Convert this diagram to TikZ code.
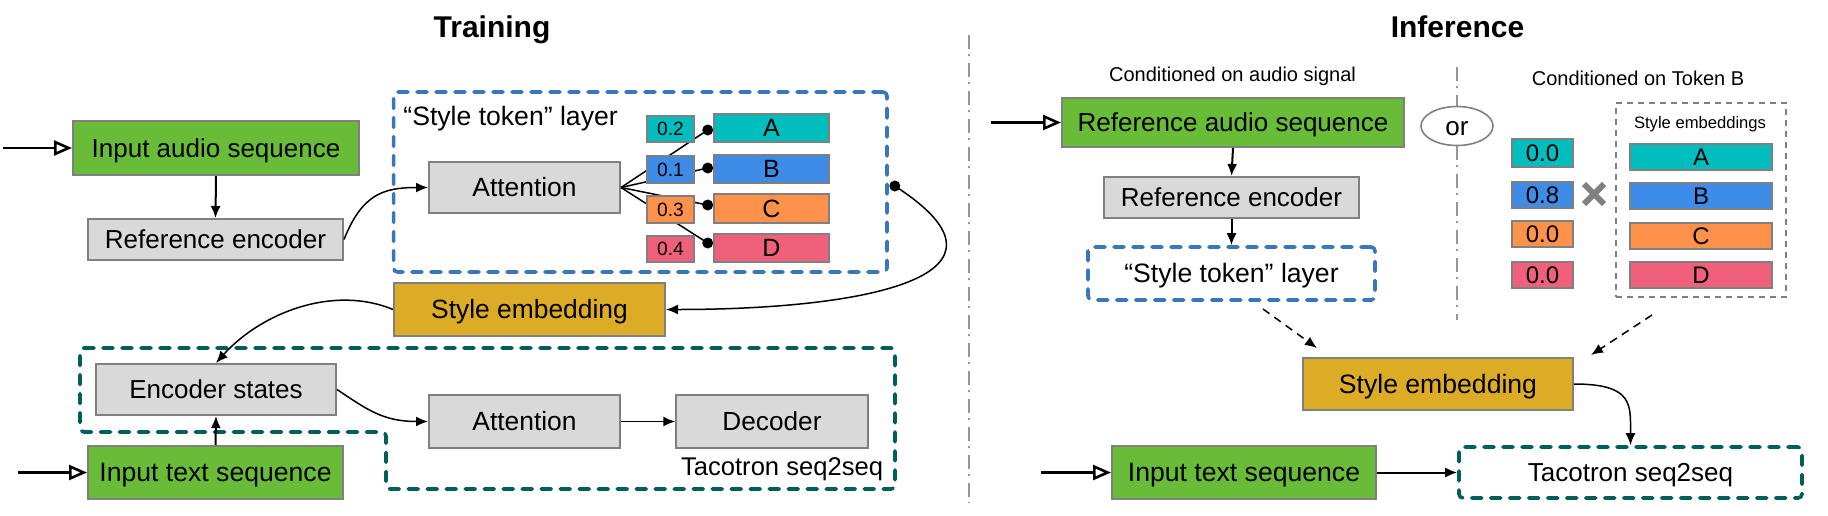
\documentclass[tikz,border=0pt]{standalone}
\usepackage{fontspec}
\setmainfont{Liberation Sans}
\usetikzlibrary{arrows.meta,calc,shapes.geometric}
\definecolor{cgreen}{RGB}{104,188,56}
\definecolor{cgray}{RGB}{217,217,217}
\definecolor{cborder}{RGB}{128,128,128}
\definecolor{cgold}{RGB}{221,172,39}
\definecolor{ccyan}{RGB}{0,190,190}
\definecolor{cblue}{RGB}{60,140,232}
\definecolor{corange}{RGB}{255,146,74}
\definecolor{cpink}{RGB}{240,96,122}
\definecolor{dblue}{RGB}{58,118,186}
\definecolor{dteal}{RGB}{2,94,90}
\definecolor{cdivider}{RGB}{150,150,150}
\tikzset{
  fsz/.style={font=\fontsize{#1}{#1}\selectfont, text height=0.72*#1 pt, text depth=0.02*#1 pt},
  box/.style={draw=cborder, line width=1pt, inner sep=0pt, fsz=13, text=black},
  greenbox/.style={box, fill=cgreen},
  graybox/.style={box, fill=cgray},
  goldbox/.style={box, fill=cgold},
  wbox/.style={draw=cborder, line width=1pt, inner sep=0pt},
  tok/.style={draw=cborder, line width=1.3pt, inner sep=0pt, fsz=12.5},
  conn/.style={line width=0.75pt, -{Latex[length=6pt,width=5pt]}},
  dconn/.style={conn, dash pattern=on 4pt off 3pt},
  inarrow/.style={line width=1.3pt, -{Triangle[open, length=9pt, width=7.5pt, fill=white, line width=1.3pt]}},
  bluedash/.style={draw=dblue, line width=1.8pt, dash pattern=on 5pt off 4.5pt, line cap=round, rounded corners=2pt},
  tealdash/.style={draw=dteal, line width=1.8pt, dash pattern=on 5pt off 4.5pt, line cap=round, rounded corners=2pt},
  graydash/.style={draw=cborder, line width=0.8pt, dash pattern=on 3pt off 2.5pt},
  divider/.style={draw=cdivider, line width=0.7pt, dash pattern=on 7pt off 2.5pt on 1pt off 3.5pt},
  blackdot/.style={circle, fill=black, inner sep=0pt, minimum size=5.5pt},
  titletext/.style={font=\bfseries\fontsize{15}{15}\selectfont, anchor=base},
  smalltext/.style={font=\fontsize{10}{10}\selectfont, anchor=base, inner sep=0pt},
}
\begin{document}
\begin{tikzpicture}[x=0.5pt,y=-0.5pt]
\useasboundingbox (0,0) rectangle (1828,515);

% ---------------- Titles and dividers ----------------
\node[titletext] (ttrain) at (492,37) {Training};
\node[titletext] (tinf) at (1457.5,37) {Inference};
\coordinate (divtop) at (969,35);
\coordinate (divbot) at (969,503);
\draw[divider] (divtop) -- (divbot);

% ---------------- Training ----------------
\node[greenbox, minimum width=143pt, minimum height=27pt] (ia) at (216,148) {Input audio sequence};
\node[graybox, minimum width=127.5pt, minimum height=20.5pt] (re) at (215.5,239.5) {Reference encoder};
\coordinate (iastart) at (3,148);
\draw[inarrow] (iastart) -- (ia.west);
\draw[conn, line width=1pt] (ia.south) -- (re.north);

% style token layer box
\node[bluedash, minimum width=246.7pt, minimum height=90pt, inner sep=0pt] (sl) at (640.3,182) {};
\node[fsz=13.3, anchor=base west, inner sep=0pt] (sllab) at (403,125) {“Style token” layer};

\node[graybox, fsz=13.2, minimum width=95.5pt, minimum height=25.5pt] (att1) at (524.5,187.5) {Attention};
\draw[conn] (re.east) .. controls +(18,-45) and +(-45,0) .. (att1.west);

% tokens
\node[tok, fill=ccyan, minimum width=57.5pt, minimum height=14pt] (tA) at (771.5,128) {A};
\node[tok, fill=cblue, minimum width=57.5pt, minimum height=14pt] (tB) at (771.5,169) {B};
\node[tok, fill=corange, minimum width=57.5pt, minimum height=14.5pt] (tC) at (771.5,208.5) {C};
\node[tok, fill=cpink, minimum width=57.5pt, minimum height=14pt] (tD) at (771.5,248) {D};
\coordinate (cA) at ($(tA.west)+(-5,2)$);
\coordinate (cB) at ($(tB.west)+(-5,-1)$);
\coordinate (cC) at ($(tC.west)+(-5,-3.5)$);
\coordinate (cD) at ($(tD.west)+(-5,-5)$);
\foreach \c in {cA,cB,cC,cD} \draw[line width=0.75pt] (att1.east) -- (\c);
\foreach \c in {cA,cB,cC,cD} \node[blackdot] at (\c) {};

% weights
\node[wbox, fill=ccyan, fsz=9.6, minimum width=23.5pt, minimum height=13pt] (w1) at (670.5,129) {0.2};
\node[wbox, fill=cblue, fsz=9.6, minimum width=23.5pt, minimum height=13.5pt] (w2) at (670.5,169.5) {0.1};
\node[wbox, fill=corange, fsz=9.6, minimum width=23.5pt, minimum height=13.5pt] (w3) at (670.5,209.5) {0.3};
\node[wbox, fill=cpink, fsz=9.6, minimum width=23.5pt, minimum height=13pt] (w4) at (670.5,249) {0.4};

% output dot and style embedding
\node[blackdot] (sldot) at ($(sl.east)+(6,4)$) {};
\node[goldbox, fsz=13.2, minimum width=135.5pt, minimum height=26.5pt] (se1) at (529.5,309.5) {Style embedding};
\draw[conn] (sldot.center) .. controls +(140,90) and +(200,0) .. (se1.east);

% Tacotron seq2seq (left) outline
\coordinate (p1) at (80,348);
\coordinate (p2) at (895,348);
\coordinate (p3) at (895,489);
\coordinate (p4) at (386,489);
\coordinate (p5) at (386,432);
\coordinate (p6) at (80,432);
\draw[tealdash] (p1) -- (p2) -- (p3) -- (p4) -- (p5) -- (p6) -- cycle;
\node[fsz=12.8, anchor=base east, inner sep=0pt] (taclab) at (883.5,475) {Tacotron seq2seq};

\node[graybox, minimum width=120pt, minimum height=25.5pt] (es) at (216,389.5) {Encoder states};
\node[greenbox, fsz=13.3, minimum width=127.5pt, minimum height=26.5pt] (it1) at (215.5,472.5) {Input text sequence};
\node[graybox, fsz=13.2, minimum width=95.5pt, minimum height=26.5pt] (att2) at (524.5,421.5) {Attention};
\node[graybox, fsz=13.1, minimum width=95.75pt, minimum height=26.5pt] (dec) at (772,421.5) {Decoder};

\coordinate (itstart) at (18,472.5);
\draw[inarrow] (itstart) -- (it1.west);
\draw[conn, line width=1pt] (it1.north) -- (es.south);
\draw[conn] (se1.west) .. controls +(-60,-25) and +(45,-50) .. (es.north);
\draw[conn] (es.east) .. controls +(30,20) and +(-45,0) .. (att2.west);
\draw[conn] (att2.east) -- (dec.west);

% ---------------- Inference ----------------
\node[smalltext] (cond1) at (1232.5,81) {Conditioned on audio signal};
\node[smalltext] (cond2) at (1638,85) {Conditioned on Token B};

\node[greenbox, minimum width=171pt, minimum height=24.5pt] (ras) at (1233,122.5) {Reference audio sequence};
\coordinate (rasstart) at (991,122.5);
\draw[inarrow] (rasstart) -- (ras.west);
\node[graybox, minimum width=127.5pt, minimum height=20.5pt] (re2) at (1231.5,197.5) {Reference encoder};
\node[bluedash, fsz=13.3, minimum width=143.5pt, minimum height=26.5pt, inner sep=0pt] (sl2) at (1231.5,273.5) {“Style token” layer};
\draw[conn, line width=1pt] (ras.south) -- (re2.north);
\draw[conn, line width=1pt] (re2.south) -- (sl2.north);

% or + divider
\node[ellipse, draw=cborder, line width=0.8pt, minimum width=36pt, minimum height=19.5pt, inner sep=0pt, fsz=13] (or) at (1457,126) {or};
\coordinate (ortop) at (1457,67);
\coordinate (orbot) at (1457,320);
\draw[divider] (ortop) -- (or.north);
\draw[divider] (or.south) -- (orbot);

% weights right
\node[wbox, fill=ccyan, fsz=12, minimum width=30.5pt, minimum height=14pt] (v1) at (1542.5,153) {0.0};
\node[wbox, fill=cblue, fsz=12, minimum width=30.5pt, minimum height=13pt] (v2) at (1542.5,195) {0.8};
\node[wbox, fill=corange, fsz=12, minimum width=30.5pt, minimum height=13pt] (v3) at (1542.5,234) {0.0};
\node[wbox, fill=cpink, fsz=12, minimum width=30.5pt, minimum height=13pt] (v4) at (1542.5,275) {0.0};

% cross
\coordinate (xc) at (1594,194);
\draw[cborder, line width=3pt] ($(xc)+(-10,-10)$) -- ($(xc)+(10,10)$);
\draw[cborder, line width=3pt] ($(xc)+(-10,10)$) -- ($(xc)+(10,-10)$);

% style embeddings box
\node[graydash, minimum width=85pt, minimum height=97pt, inner sep=0pt] (sebox) at (1701,200) {};
\node[font=\fontsize{8.3}{8.3}\selectfont, anchor=base, inner sep=0pt] (seblab) at (1700,128) {Style embeddings};
\node[tok, line width=1pt, fsz=12, fill=ccyan, minimum width=71pt, minimum height=13pt] (uA) at (1701,157) {A};
\node[tok, line width=1pt, fsz=12, fill=cblue, minimum width=71pt, minimum height=13pt] (uB) at (1701,196) {B};
\node[tok, line width=1pt, fsz=12, fill=corange, minimum width=71pt, minimum height=13pt] (uC) at (1701,236) {C};
\node[tok, line width=1pt, fsz=12, fill=cpink, minimum width=71pt, minimum height=13pt] (uD) at (1701,275) {D};

% style embedding (right)
\node[goldbox, fsz=13.3, minimum width=135pt, minimum height=26pt] (se2) at (1438,384) {Style embedding};
\coordinate (da1) at (1263,309);
\coordinate (da1e) at (1317,348);
\draw[dconn] (da1) -- (da1e);
\coordinate (da2) at (1652,315);
\coordinate (da2e) at (1591,355);
\draw[dconn] (da2) -- (da2e);

% input text + tacotron (right)
\node[greenbox, fsz=13.3, minimum width=132pt, minimum height=26.5pt] (it2) at (1244,472.5) {Input text sequence};
\node[tealdash, fsz=13, minimum width=171.5pt, minimum height=25.5pt, inner sep=0pt, text=black] (tac2) at (1630.5,472.5) {Tacotron seq2seq};
\coordinate (it2start) at (1041,472.5);
\draw[inarrow] (it2start) -- (it2.west);
\draw[conn, line width=1pt] (it2.east) -- (tac2.west);
\draw[conn] (se2.east) .. controls +(60,0) and +(0,-40) .. (tac2.north);
\end{tikzpicture}
\end{document}
